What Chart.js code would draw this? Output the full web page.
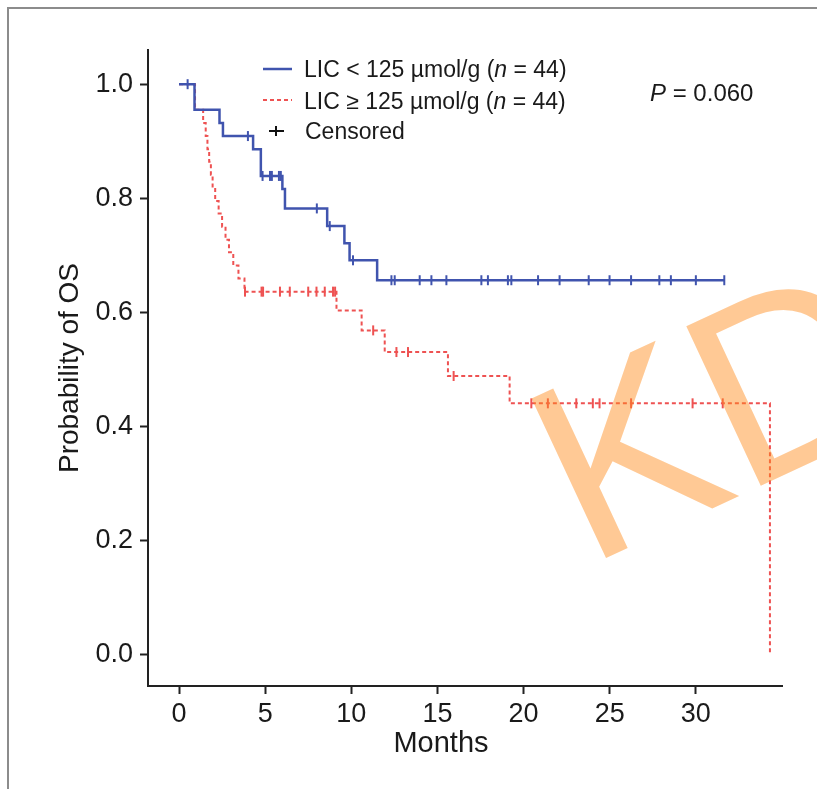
<!DOCTYPE html>
<html>
<head>
<meta charset="utf-8">
<script src="https://cdn.jsdelivr.net/npm/chart.js@4.4.1/dist/chart.umd.min.js"></script>
<style>
    html, body { margin: 0; padding: 0; background: #fff; overflow: hidden; }
    #wrap { position: relative; width: 817px; height: 789px; }
    #km { position: absolute; left: 0; top: 0; }
    .frame { position: absolute; left: 7px; top: 7px; width: 900px; height: 900px; border: 2px solid #8c8c8c; box-sizing: border-box; }
    #overlay { position: absolute; left: 0; top: 0; pointer-events: none; }
    #overlay text { font-family: "Liberation Sans", Arial, sans-serif; fill: #1a1a1a; }
</style>
</head>
<body>
<div id="wrap">
    <div class="frame"></div>
    <canvas id="km" width="817" height="789"></canvas>
    <svg id="overlay" width="817" height="789">
        <line x1="263" y1="69" x2="292" y2="69" stroke="#4054ae" stroke-width="2.5"/>
        <text x="304" y="77" font-size="23">LIC &lt; 125 µmol/g (<tspan font-style="italic">n</tspan> = 44)</text>
        <line x1="263" y1="100" x2="292" y2="100" stroke="#ee5252" stroke-width="2" stroke-dasharray="4 3"/>
        <text x="304" y="109" font-size="23">LIC ≥ 125 µmol/g (<tspan font-style="italic">n</tspan> = 44)</text>
        <line x1="269" y1="131" x2="284" y2="131" stroke="#111" stroke-width="2"/>
        <line x1="276" y1="126" x2="276" y2="136" stroke="#111" stroke-width="2"/>
        <text x="305" y="139" font-size="23">Censored</text>
        <text x="650" y="101" font-size="24"><tspan font-style="italic">P</tspan> = 0.060</text>
        <text x="441" y="752" font-size="29" text-anchor="middle">Months</text>
        <text x="587" y="567" transform="rotate(-25 587 567)" font-size="256" style="fill: rgba(255,140,30,0.47)">KD</text>
    </svg>
</div>
<script>
// Kaplan-Meier steps (months, survival after the event)
const lowTimes = [0, 0.9, 2.35, 2.55, 4.3, 4.75, 6.0, 6.15, 8.6, 9.6, 9.9, 11.5, 31.65];
const lowSurv  = [1.0, 0.955, 0.932, 0.909, 0.886, 0.839, 0.816, 0.782, 0.751, 0.721, 0.691, 0.656, 0.656];
const lowCensored = [0.5, 4.0, 4.85, 5.28, 5.39, 5.8, 5.91, 8.0, 8.75, 10.1, 12.33, 12.52, 13.97, 14.65,
    15.52, 17.55, 17.93, 19.09, 19.29, 20.84, 22.09, 23.78, 24.99, 26.24, 27.88, 28.55, 30.0, 31.65];

const highTimes = [0, 0.93, 1.4, 1.55, 1.65, 1.75, 1.85, 1.95, 2.1, 2.3, 2.5, 2.7, 2.9, 3.15, 3.45, 3.8,
    9.14, 10.6, 11.94, 15.61, 19.19, 34.3];
const highSurv  = [1.0, 0.955, 0.932, 0.909, 0.886, 0.864, 0.841, 0.818, 0.795, 0.773, 0.75, 0.727, 0.705,
    0.682, 0.659, 0.636, 0.603, 0.568, 0.53, 0.488, 0.44, 0.0];
const highCensored = [3.83, 4.79, 4.88, 5.86, 6.43, 7.5, 7.98, 8.46, 8.94, 9.06, 11.27, 12.62, 13.29, 15.94,
    20.45, 21.41, 23.06, 24.02, 24.41, 26.24, 29.81, 31.56];

const xTicks = [0, 5, 10, 15, 20, 25, 30];
const yTicks = [0, 0.2, 0.4, 0.6, 0.8, 1.0];

const blue = '#4054ae';
const red = '#ee5252';
const fontFamily = '"Liberation Sans", Arial, sans-serif';

// survival value of a curve at time t (last step at or before t)
function survAt(times, surv, t) {
    let v = surv[0];
    for (let i = 0; i < times.length; i++) {
        if (times[i] <= t) v = surv[i];
    }
    return v;
}

const toPoints = (times, surv) => times.map((t, i) => ({ x: t, y: surv[i] }));
const toCensors = (cens, times, surv) => cens.map(t => ({ x: t, y: survAt(times, surv, t) }));

const censorStyle = {
    type: 'scatter',
    pointStyle: 'line',
    rotation: 90,
    pointRadius: 5,
    pointBorderWidth: 2,
    showLine: false
};

new Chart(document.getElementById('km'), {
    type: 'line',
    data: {
        datasets: [
            {
                data: toPoints(lowTimes, lowSurv),
                borderColor: blue,
                borderWidth: 2.5,
                stepped: 'before',
                pointRadius: 0,
                fill: false
            },
            Object.assign({
                data: toCensors(lowCensored, lowTimes, lowSurv),
                borderColor: blue,
                backgroundColor: blue
            }, censorStyle),
            {
                data: toPoints(highTimes, highSurv),
                borderColor: red,
                borderWidth: 2,
                borderDash: [4, 3],
                stepped: 'before',
                pointRadius: 0,
                fill: false
            },
            Object.assign({
                data: toCensors(highCensored, highTimes, highSurv),
                borderColor: red,
                backgroundColor: red
            }, censorStyle)
        ]
    },
    options: {
        responsive: false,
        animation: false,
        layout: { padding: { left: 0, right: 35, top: 50, bottom: 0 } },
        plugins: {
            legend: { display: false },
            tooltip: { enabled: false }
        },
        scales: {
            x: {
                type: 'linear',
                min: -1.8,
                max: 35,
                afterBuildTicks: s => { s.ticks = xTicks.map(v => ({ value: v })); },
                afterFit: s => { s.height = 103; },
                ticks: {
                    autoSkip: false,
                    maxRotation: 0,
                    padding: 4,
                    color: '#1a1a1a',
                    font: { family: fontFamily, size: 27 }
                },
                grid: { drawOnChartArea: false, drawTicks: true, tickLength: 8, tickWidth: 2, tickColor: '#222' },
                border: { display: true, color: '#222', width: 2 },
                title: { display: false }
            },
            y: {
                type: 'linear',
                min: -0.056,
                max: 1.06,
                afterBuildTicks: s => { s.ticks = yTicks.map(v => ({ value: v })); },
                afterFit: s => { s.width = 148; },
                ticks: {
                    padding: 7,
                    color: '#1a1a1a',
                    font: { family: fontFamily, size: 27 },
                    callback: v => v.toFixed(1)
                },
                grid: { drawOnChartArea: false, drawTicks: true, tickLength: 8, tickWidth: 2, tickColor: '#222' },
                border: { display: true, color: '#222', width: 2 },
                title: {
                    display: true,
                    text: 'Probability of OS',
                    color: '#1a1a1a',
                    font: { family: fontFamily, size: 28 },
                    padding: { top: 53, bottom: 0 }
                }
            }
        }
    }
});
</script>
</body>
</html>
